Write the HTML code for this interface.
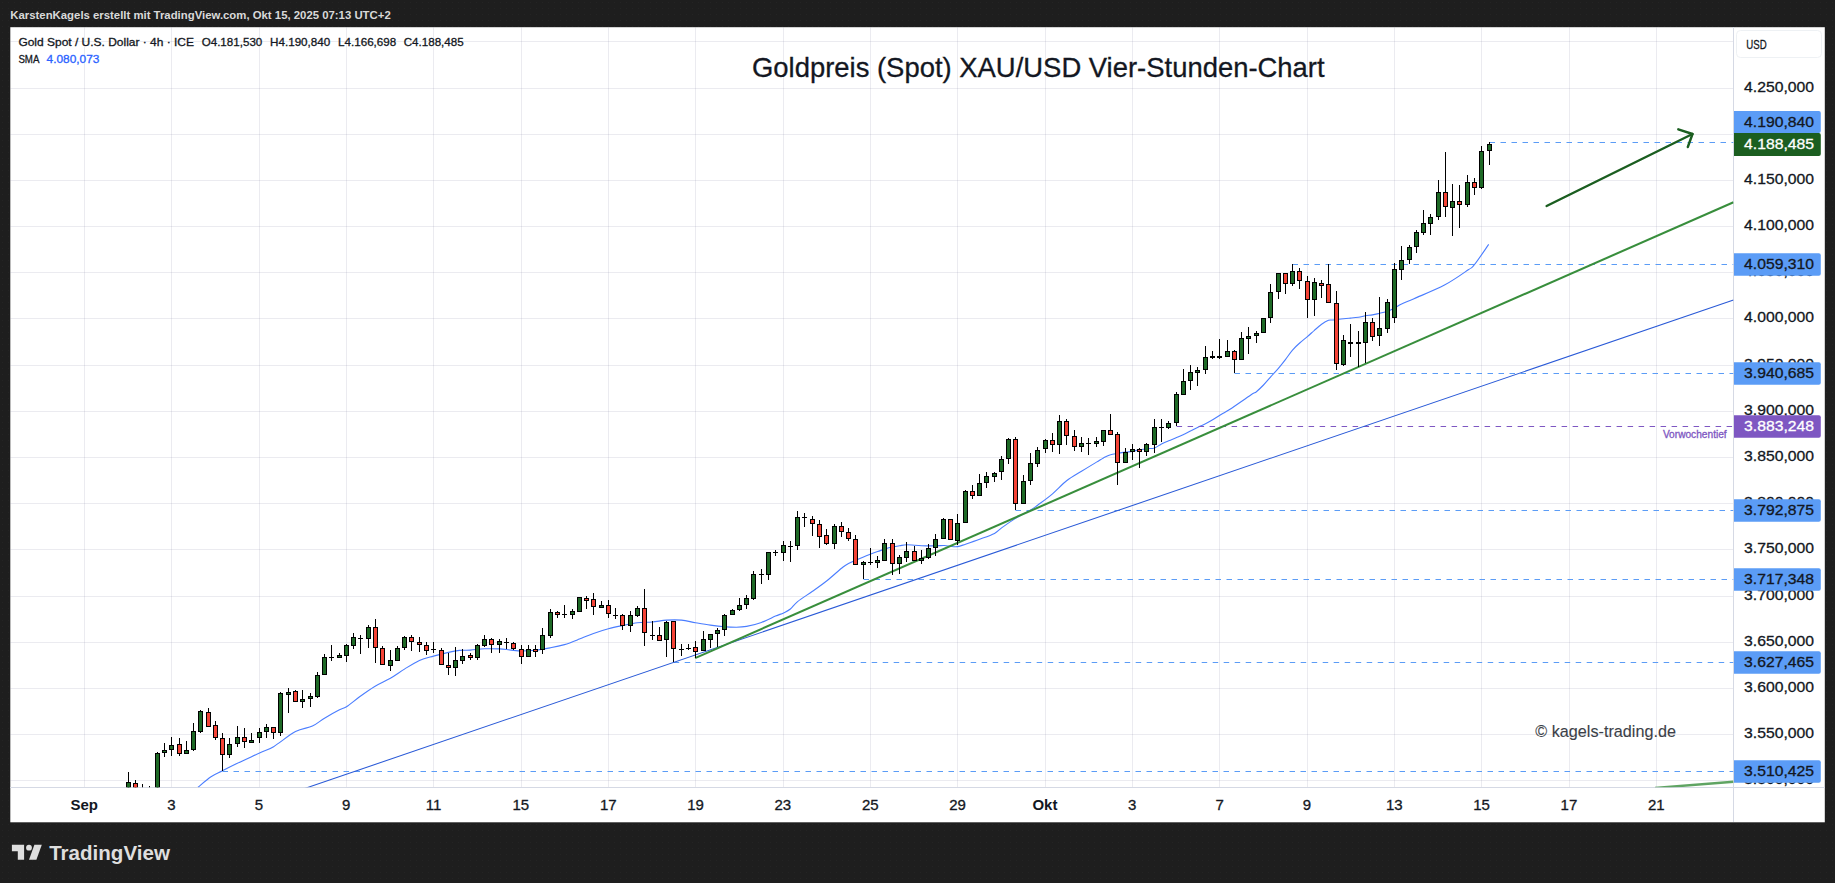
<!DOCTYPE html>
<html lang="de"><head><meta charset="utf-8"><title>Goldpreis (Spot) XAU/USD Vier-Stunden-Chart</title>
<style>html,body{margin:0;padding:0;background:#1e1e1e;overflow:hidden}svg{display:block}text{white-space:pre}</style>
</head><body>
<svg width="1835" height="883" viewBox="0 0 1835 883" font-family='"Liberation Sans", Arial, sans-serif'>
<defs>
<clipPath id="pane"><rect x="10.3" y="27.2" width="1723.2" height="760.0999999999999"/></clipPath>
<clipPath id="axis"><rect x="1733.5" y="27.2" width="91.29999999999995" height="760.0999999999999"/></clipPath>
<pattern id="dots" width="6" height="6" patternUnits="userSpaceOnUse"><rect width="6" height="6" fill="#1e1e1e"/><rect x="2" y="2" width="1" height="1" fill="#242424"/></pattern>
</defs>
<rect width="1835" height="883" fill="url(#dots)"/>
<rect x="10.3" y="27.2" width="1814.5" height="795.0999999999999" fill="#ffffff"/>
<g stroke="#787b9a" stroke-opacity="0.15" stroke-width="1" shape-rendering="crispEdges" clip-path="url(#pane)">
<line x1="84.50" y1="27.2" x2="84.50" y2="787.3"/>
<line x1="171.50" y1="27.2" x2="171.50" y2="787.3"/>
<line x1="259.50" y1="27.2" x2="259.50" y2="787.3"/>
<line x1="346.50" y1="27.2" x2="346.50" y2="787.3"/>
<line x1="433.50" y1="27.2" x2="433.50" y2="787.3"/>
<line x1="521.50" y1="27.2" x2="521.50" y2="787.3"/>
<line x1="608.50" y1="27.2" x2="608.50" y2="787.3"/>
<line x1="695.50" y1="27.2" x2="695.50" y2="787.3"/>
<line x1="783.50" y1="27.2" x2="783.50" y2="787.3"/>
<line x1="870.50" y1="27.2" x2="870.50" y2="787.3"/>
<line x1="957.50" y1="27.2" x2="957.50" y2="787.3"/>
<line x1="1045.50" y1="27.2" x2="1045.50" y2="787.3"/>
<line x1="1132.50" y1="27.2" x2="1132.50" y2="787.3"/>
<line x1="1219.50" y1="27.2" x2="1219.50" y2="787.3"/>
<line x1="1307.50" y1="27.2" x2="1307.50" y2="787.3"/>
<line x1="1394.50" y1="27.2" x2="1394.50" y2="787.3"/>
<line x1="1481.50" y1="27.2" x2="1481.50" y2="787.3"/>
<line x1="1569.50" y1="27.2" x2="1569.50" y2="787.3"/>
<line x1="1656.50" y1="27.2" x2="1656.50" y2="787.3"/>
<line x1="10.3" y1="41.50" x2="1733.5" y2="41.50"/>
<line x1="10.3" y1="88.50" x2="1733.5" y2="88.50"/>
<line x1="10.3" y1="134.50" x2="1733.5" y2="134.50"/>
<line x1="10.3" y1="180.50" x2="1733.5" y2="180.50"/>
<line x1="10.3" y1="226.50" x2="1733.5" y2="226.50"/>
<line x1="10.3" y1="272.50" x2="1733.5" y2="272.50"/>
<line x1="10.3" y1="318.50" x2="1733.5" y2="318.50"/>
<line x1="10.3" y1="365.50" x2="1733.5" y2="365.50"/>
<line x1="10.3" y1="411.50" x2="1733.5" y2="411.50"/>
<line x1="10.3" y1="457.50" x2="1733.5" y2="457.50"/>
<line x1="10.3" y1="503.50" x2="1733.5" y2="503.50"/>
<line x1="10.3" y1="549.50" x2="1733.5" y2="549.50"/>
<line x1="10.3" y1="596.50" x2="1733.5" y2="596.50"/>
<line x1="10.3" y1="642.50" x2="1733.5" y2="642.50"/>
<line x1="10.3" y1="688.50" x2="1733.5" y2="688.50"/>
<line x1="10.3" y1="734.50" x2="1733.5" y2="734.50"/>
<line x1="10.3" y1="780.50" x2="1733.5" y2="780.50"/>
</g>
<g stroke="#d5d9e4" stroke-width="1" shape-rendering="crispEdges"><line x1="1733.5" y1="27.2" x2="1733.5" y2="822.3"/><line x1="10.3" y1="787.3" x2="1824.8" y2="787.3"/></g>
<g clip-path="url(#pane)">
<path fill="none" stroke="#4a7dff" stroke-width="1.1" stroke-linejoin="round" d="M198.0,787.3 C200.2,785.5 206.9,779.5 211.0,776.8 C215.1,774.0 218.3,773.0 222.5,770.8 C226.7,768.6 230.1,766.8 236.3,763.8 C242.5,760.8 253.4,755.9 259.6,753.0 C265.8,750.1 267.6,750.3 273.6,746.7 C279.6,743.1 289.0,735.0 295.5,731.6 C302.0,728.2 307.6,728.3 312.4,726.1 C317.2,723.9 320.1,720.9 324.5,718.2 C328.9,715.5 335.3,711.9 339.0,710.0 C342.7,708.1 343.1,708.9 346.5,706.7 C349.9,704.5 354.9,700.2 359.6,696.8 C364.3,693.4 369.6,689.6 374.7,686.5 C379.8,683.4 385.4,681.2 390.4,678.3 C395.4,675.4 399.7,672.1 404.5,669.1 C409.3,666.1 414.6,662.6 419.4,660.4 C424.2,658.2 428.7,657.4 433.5,656.1 C438.3,654.8 444.1,653.4 448.4,652.4 C452.7,651.4 455.8,650.8 459.5,650.4 C463.2,650.0 466.2,650.4 470.4,650.1 C474.6,649.8 479.8,649.0 484.6,648.8 C489.5,648.6 495.4,648.7 499.5,648.9 C503.6,649.1 505.8,649.5 509.5,649.9 C513.2,650.2 517.3,651.0 521.6,651.0 C525.9,651.0 530.7,650.7 535.5,650.2 C540.3,649.7 545.6,648.7 550.4,647.8 C555.2,646.9 559.7,646.0 564.5,644.6 C569.3,643.2 574.6,641.0 579.4,639.1 C584.2,637.2 588.7,635.2 593.5,633.5 C598.3,631.8 603.6,630.1 608.4,628.8 C613.2,627.5 617.7,626.6 622.5,625.6 C627.3,624.6 632.4,623.3 637.4,622.7 C642.4,622.1 647.4,622.4 652.3,622.0 C657.1,621.6 661.6,620.4 666.5,620.1 C671.4,619.8 676.7,619.7 681.5,620.1 C686.3,620.5 690.7,621.9 695.5,622.7 C700.3,623.5 705.6,624.4 710.4,625.1 C715.2,625.8 720.2,626.4 724.5,626.7 C728.8,627.1 732.6,627.2 736.3,627.2 C740.0,627.2 742.4,627.2 746.6,626.4 C750.8,625.6 756.6,624.1 761.4,622.4 C766.2,620.7 771.8,617.7 775.5,616.1 C779.2,614.5 781.1,614.1 783.6,612.9 C786.1,611.7 788.1,610.9 790.4,609.0 C792.7,607.1 793.9,604.6 797.6,601.6 C801.3,598.6 807.7,594.7 812.5,591.3 C817.3,587.9 821.8,584.8 826.6,581.0 C831.4,577.2 837.9,571.2 841.5,568.3 C845.1,565.4 844.8,565.4 848.5,563.5 C852.2,561.6 858.6,558.9 863.5,556.9 C868.4,554.9 873.4,553.1 877.6,551.6 C881.8,550.1 885.2,548.7 888.9,547.7 C892.5,546.7 896.5,546.3 899.5,545.8 C902.5,545.3 903.0,544.8 906.7,544.8 C910.4,544.8 916.8,545.6 921.6,545.8 C926.4,546.0 931.7,545.8 935.5,545.8 C939.3,545.8 941.9,545.4 944.4,545.5 C946.9,545.6 948.4,546.2 950.6,546.4 C952.8,546.6 955.2,547.0 957.7,546.6 C960.2,546.2 961.9,545.4 965.5,544.2 C969.1,543.0 974.8,541.1 979.6,539.3 C984.4,537.5 990.8,535.3 994.5,533.4 C998.2,531.5 998.1,530.4 1001.6,527.9 C1005.1,525.4 1010.7,521.4 1015.5,518.4 C1020.3,515.4 1026.9,512.2 1030.6,510.0 C1034.3,507.8 1033.9,507.9 1037.6,505.2 C1041.2,502.5 1047.7,497.9 1052.5,493.8 C1057.3,489.7 1061.8,484.6 1066.6,480.8 C1071.4,477.1 1076.5,474.4 1081.5,471.3 C1086.5,468.2 1092.8,464.3 1096.5,462.1 C1100.2,459.9 1101.2,459.1 1103.5,457.9 C1105.8,456.7 1108.2,455.4 1110.5,454.7 C1112.8,453.9 1115.1,453.8 1117.6,453.4 C1120.1,453.0 1123.0,452.4 1125.5,452.1 C1128.0,451.8 1130.2,451.8 1132.5,451.4 C1134.8,451.0 1137.0,450.2 1139.5,449.8 C1142.0,449.4 1144.9,449.0 1147.4,448.7 C1149.9,448.4 1152.2,448.7 1154.6,447.9 C1156.9,447.1 1159.2,445.1 1161.5,443.9 C1163.8,442.7 1166.2,441.8 1168.7,440.7 C1171.2,439.6 1174.1,438.7 1176.6,437.6 C1179.1,436.6 1181.1,435.6 1183.6,434.4 C1186.1,433.2 1189.0,431.6 1191.5,430.4 C1194.0,429.1 1196.0,428.1 1198.5,426.9 C1201.0,425.7 1203.9,424.6 1206.4,423.3 C1208.9,422.0 1211.0,420.8 1213.5,419.3 C1216.0,417.8 1218.8,416.0 1221.5,414.3 C1224.2,412.6 1225.1,412.5 1230.0,409.3 C1234.9,406.1 1246.4,397.9 1250.8,395.0 C1255.2,392.1 1254.3,393.4 1256.4,391.7 C1258.5,390.0 1261.2,387.4 1263.5,385.0 C1265.8,382.6 1268.0,379.9 1270.5,377.1 C1273.0,374.3 1275.9,371.2 1278.4,368.3 C1280.9,365.4 1283.1,362.6 1285.4,359.6 C1287.8,356.6 1290.1,352.9 1292.5,350.1 C1294.9,347.3 1297.2,345.2 1299.7,343.0 C1302.2,340.8 1305.0,338.7 1307.4,336.6 C1309.9,334.5 1312.0,332.4 1314.4,330.3 C1316.8,328.2 1319.2,326.0 1321.6,324.3 C1323.9,322.6 1326.5,321.0 1328.5,320.3 C1330.5,319.6 1330.8,320.3 1333.3,320.0 C1335.8,319.7 1340.7,319.0 1343.6,318.7 C1346.5,318.4 1348.1,318.3 1350.6,318.1 C1353.1,317.9 1356.0,317.7 1358.5,317.3 C1361.0,316.9 1363.2,316.1 1365.5,315.7 C1367.8,315.3 1370.1,315.3 1372.4,314.9 C1374.8,314.5 1377.1,313.9 1379.6,313.3 C1382.1,312.7 1385.0,312.2 1387.5,311.3 C1390.0,310.4 1392.2,309.3 1394.5,308.1 C1396.8,306.9 1398.3,305.7 1401.6,304.1 C1404.8,302.5 1406.8,301.9 1414.0,298.7 C1421.2,295.5 1435.5,289.9 1444.5,285.1 C1453.5,280.3 1463.3,273.2 1468.3,269.8 C1473.3,266.4 1471.0,268.9 1474.4,264.7 C1477.8,260.5 1486.3,247.8 1488.7,244.4"/>
<line x1="1489.5" y1="142.5" x2="1733.5" y2="142.5" stroke="#5b9cf6" stroke-width="1" stroke-dasharray="5.5 5.5"/>
<line x1="1292.5" y1="264.5" x2="1733.5" y2="264.5" stroke="#5b9cf6" stroke-width="1" stroke-dasharray="5.5 5.5"/>
<line x1="1234.5" y1="373.5" x2="1733.5" y2="373.5" stroke="#5b9cf6" stroke-width="1" stroke-dasharray="5.5 5.5"/>
<line x1="1176.6" y1="426.5" x2="1733.5" y2="426.5" stroke="#7e57c2" stroke-width="1" stroke-dasharray="5.5 5.5"/>
<line x1="1015.5" y1="510.5" x2="1733.5" y2="510.5" stroke="#5b9cf6" stroke-width="1" stroke-dasharray="5.5 5.5"/>
<line x1="863.5" y1="579.5" x2="1733.5" y2="579.5" stroke="#5b9cf6" stroke-width="1" stroke-dasharray="5.5 5.5"/>
<line x1="673.7" y1="662.5" x2="1733.5" y2="662.5" stroke="#5b9cf6" stroke-width="1" stroke-dasharray="5.5 5.5"/>
<line x1="222.5" y1="771.5" x2="1733.5" y2="771.5" stroke="#5b9cf6" stroke-width="1" stroke-dasharray="5.5 5.5"/>
<line x1="300.0" y1="790.1" x2="1733.5" y2="300.0" stroke="#2a5ad7" stroke-width="1.05"/>
<line x1="695.1" y1="658.1" x2="1733.5" y2="202.3" stroke="#388e3c" stroke-width="2.05"/>
<line x1="1655.0" y1="788.0" x2="1733.5" y2="781.7" stroke="#388e3c" stroke-width="2.4" opacity="0.8"/>
<g shape-rendering="crispEdges"><rect x="128" y="772" width="1" height="21" fill="#000"/><rect x="126" y="782" width="5" height="11" fill="#000"/><rect x="127" y="783" width="3" height="9" fill="#1e6926"/><rect x="135" y="780" width="1" height="13" fill="#000"/><rect x="133" y="783" width="5" height="10" fill="#000"/><rect x="134" y="784" width="3" height="8" fill="#f44336"/><rect x="142" y="784" width="1" height="9" fill="#000"/><rect x="140" y="793" width="5" height="1" fill="#000"/><rect x="149" y="786" width="1" height="7" fill="#000"/><rect x="147" y="793" width="5" height="1" fill="#000"/><rect x="157" y="752" width="1" height="41" fill="#000"/><rect x="155" y="753" width="5" height="40" fill="#000"/><rect x="156" y="754" width="3" height="38" fill="#1e6926"/><rect x="164" y="743" width="1" height="14" fill="#000"/><rect x="162" y="750" width="5" height="3" fill="#000"/><rect x="163" y="751" width="3" height="1" fill="#1e6926"/><rect x="171" y="737" width="1" height="19" fill="#000"/><rect x="169" y="745" width="5" height="5" fill="#000"/><rect x="170" y="746" width="3" height="3" fill="#1e6926"/><rect x="179" y="738" width="1" height="18" fill="#000"/><rect x="177" y="744" width="5" height="10" fill="#000"/><rect x="178" y="745" width="3" height="8" fill="#f44336"/><rect x="186" y="741" width="1" height="13" fill="#000"/><rect x="184" y="750" width="5" height="4" fill="#000"/><rect x="185" y="751" width="3" height="2" fill="#1e6926"/><rect x="193" y="723" width="1" height="28" fill="#000"/><rect x="191" y="731" width="5" height="19" fill="#000"/><rect x="192" y="732" width="3" height="17" fill="#1e6926"/><rect x="200" y="710" width="1" height="23" fill="#000"/><rect x="198" y="711" width="5" height="21" fill="#000"/><rect x="199" y="712" width="3" height="19" fill="#1e6926"/><rect x="208" y="708" width="1" height="19" fill="#000"/><rect x="206" y="712" width="5" height="15" fill="#000"/><rect x="207" y="713" width="3" height="13" fill="#f44336"/><rect x="215" y="721" width="1" height="19" fill="#000"/><rect x="213" y="725" width="5" height="13" fill="#000"/><rect x="214" y="726" width="3" height="11" fill="#f44336"/><rect x="222" y="733" width="1" height="38" fill="#000"/><rect x="220" y="738" width="5" height="17" fill="#000"/><rect x="221" y="739" width="3" height="15" fill="#f44336"/><rect x="229" y="738" width="1" height="20" fill="#000"/><rect x="227" y="744" width="5" height="11" fill="#000"/><rect x="228" y="745" width="3" height="9" fill="#1e6926"/><rect x="237" y="726" width="1" height="21" fill="#000"/><rect x="235" y="737" width="5" height="7" fill="#000"/><rect x="236" y="738" width="3" height="5" fill="#1e6926"/><rect x="244" y="728" width="1" height="20" fill="#000"/><rect x="242" y="737" width="5" height="5" fill="#000"/><rect x="243" y="738" width="3" height="3" fill="#f44336"/><rect x="251" y="733" width="1" height="9" fill="#000"/><rect x="249" y="740" width="5" height="3" fill="#000"/><rect x="250" y="741" width="3" height="1" fill="#1e6926"/><rect x="259" y="728" width="1" height="15" fill="#000"/><rect x="257" y="732" width="5" height="6" fill="#000"/><rect x="258" y="733" width="3" height="4" fill="#1e6926"/><rect x="266" y="724" width="1" height="14" fill="#000"/><rect x="264" y="727" width="5" height="5" fill="#000"/><rect x="265" y="728" width="3" height="3" fill="#1e6926"/><rect x="273" y="727" width="1" height="12" fill="#000"/><rect x="271" y="727" width="5" height="6" fill="#000"/><rect x="272" y="728" width="3" height="4" fill="#f44336"/><rect x="280" y="692" width="1" height="44" fill="#000"/><rect x="278" y="693" width="5" height="40" fill="#000"/><rect x="279" y="694" width="3" height="38" fill="#1e6926"/><rect x="288" y="688" width="1" height="25" fill="#000"/><rect x="286" y="692" width="5" height="3" fill="#000"/><rect x="287" y="693" width="3" height="1" fill="#1e6926"/><rect x="295" y="690" width="1" height="12" fill="#000"/><rect x="293" y="691" width="5" height="11" fill="#000"/><rect x="294" y="692" width="3" height="9" fill="#f44336"/><rect x="302" y="690" width="1" height="18" fill="#000"/><rect x="300" y="699" width="5" height="3" fill="#000"/><rect x="301" y="700" width="3" height="1" fill="#1e6926"/><rect x="310" y="693" width="1" height="14" fill="#000"/><rect x="308" y="696" width="5" height="3" fill="#000"/><rect x="309" y="697" width="3" height="1" fill="#1e6926"/><rect x="317" y="672" width="1" height="26" fill="#000"/><rect x="315" y="675" width="5" height="22" fill="#000"/><rect x="316" y="676" width="3" height="20" fill="#1e6926"/><rect x="324" y="654" width="1" height="21" fill="#000"/><rect x="322" y="657" width="5" height="18" fill="#000"/><rect x="323" y="658" width="3" height="16" fill="#1e6926"/><rect x="331" y="645" width="1" height="16" fill="#000"/><rect x="329" y="657" width="5" height="1" fill="#000"/><rect x="339" y="653" width="1" height="5" fill="#000"/><rect x="337" y="655" width="5" height="3" fill="#000"/><rect x="338" y="656" width="3" height="1" fill="#1e6926"/><rect x="346" y="644" width="1" height="18" fill="#000"/><rect x="344" y="645" width="5" height="11" fill="#000"/><rect x="345" y="646" width="3" height="9" fill="#1e6926"/><rect x="353" y="633" width="1" height="16" fill="#000"/><rect x="351" y="637" width="5" height="9" fill="#000"/><rect x="352" y="638" width="3" height="7" fill="#1e6926"/><rect x="360" y="635" width="1" height="19" fill="#000"/><rect x="358" y="638" width="5" height="1" fill="#000"/><rect x="368" y="625" width="1" height="23" fill="#000"/><rect x="366" y="627" width="5" height="12" fill="#000"/><rect x="367" y="628" width="3" height="10" fill="#1e6926"/><rect x="375" y="619" width="1" height="44" fill="#000"/><rect x="373" y="627" width="5" height="21" fill="#000"/><rect x="374" y="628" width="3" height="19" fill="#f44336"/><rect x="382" y="646" width="1" height="19" fill="#000"/><rect x="380" y="648" width="5" height="17" fill="#000"/><rect x="381" y="649" width="3" height="15" fill="#f44336"/><rect x="390" y="650" width="1" height="21" fill="#000"/><rect x="388" y="660" width="5" height="6" fill="#000"/><rect x="389" y="661" width="3" height="4" fill="#1e6926"/><rect x="397" y="646" width="1" height="15" fill="#000"/><rect x="395" y="648" width="5" height="13" fill="#000"/><rect x="396" y="649" width="3" height="11" fill="#1e6926"/><rect x="404" y="636" width="1" height="14" fill="#000"/><rect x="402" y="637" width="5" height="11" fill="#000"/><rect x="403" y="638" width="3" height="9" fill="#1e6926"/><rect x="411" y="635" width="1" height="16" fill="#000"/><rect x="409" y="637" width="5" height="5" fill="#000"/><rect x="410" y="638" width="3" height="3" fill="#f44336"/><rect x="419" y="637" width="1" height="15" fill="#000"/><rect x="417" y="642" width="5" height="3" fill="#000"/><rect x="418" y="643" width="3" height="1" fill="#f44336"/><rect x="426" y="642" width="1" height="13" fill="#000"/><rect x="424" y="645" width="5" height="6" fill="#000"/><rect x="425" y="646" width="3" height="4" fill="#f44336"/><rect x="433" y="642" width="1" height="11" fill="#000"/><rect x="431" y="649" width="5" height="1" fill="#000"/><rect x="441" y="648" width="1" height="17" fill="#000"/><rect x="439" y="650" width="5" height="15" fill="#000"/><rect x="440" y="651" width="3" height="13" fill="#f44336"/><rect x="448" y="653" width="1" height="22" fill="#000"/><rect x="446" y="665" width="5" height="3" fill="#000"/><rect x="447" y="666" width="3" height="1" fill="#f44336"/><rect x="455" y="647" width="1" height="29" fill="#000"/><rect x="453" y="660" width="5" height="8" fill="#000"/><rect x="454" y="661" width="3" height="6" fill="#1e6926"/><rect x="462" y="649" width="1" height="15" fill="#000"/><rect x="460" y="656" width="5" height="5" fill="#000"/><rect x="461" y="657" width="3" height="3" fill="#1e6926"/><rect x="470" y="653" width="1" height="7" fill="#000"/><rect x="468" y="655" width="5" height="3" fill="#000"/><rect x="469" y="656" width="3" height="1" fill="#f44336"/><rect x="477" y="644" width="1" height="16" fill="#000"/><rect x="475" y="645" width="5" height="13" fill="#000"/><rect x="476" y="646" width="3" height="11" fill="#1e6926"/><rect x="484" y="635" width="1" height="12" fill="#000"/><rect x="482" y="639" width="5" height="7" fill="#000"/><rect x="483" y="640" width="3" height="5" fill="#1e6926"/><rect x="491" y="638" width="1" height="15" fill="#000"/><rect x="489" y="639" width="5" height="6" fill="#000"/><rect x="490" y="640" width="3" height="4" fill="#f44336"/><rect x="499" y="639" width="1" height="14" fill="#000"/><rect x="497" y="641" width="5" height="4" fill="#000"/><rect x="498" y="642" width="3" height="2" fill="#1e6926"/><rect x="506" y="638" width="1" height="11" fill="#000"/><rect x="504" y="642" width="5" height="1" fill="#000"/><rect x="513" y="642" width="1" height="8" fill="#000"/><rect x="511" y="643" width="5" height="6" fill="#000"/><rect x="512" y="644" width="3" height="4" fill="#f44336"/><rect x="521" y="645" width="1" height="19" fill="#000"/><rect x="519" y="649" width="5" height="8" fill="#000"/><rect x="520" y="650" width="3" height="6" fill="#f44336"/><rect x="528" y="645" width="1" height="12" fill="#000"/><rect x="526" y="649" width="5" height="8" fill="#000"/><rect x="527" y="650" width="3" height="6" fill="#1e6926"/><rect x="535" y="645" width="1" height="12" fill="#000"/><rect x="533" y="649" width="5" height="3" fill="#000"/><rect x="534" y="650" width="3" height="1" fill="#f44336"/><rect x="542" y="628" width="1" height="26" fill="#000"/><rect x="540" y="635" width="5" height="15" fill="#000"/><rect x="541" y="636" width="3" height="13" fill="#1e6926"/><rect x="550" y="609" width="1" height="29" fill="#000"/><rect x="548" y="612" width="5" height="24" fill="#000"/><rect x="549" y="613" width="3" height="22" fill="#1e6926"/><rect x="557" y="611" width="1" height="7" fill="#000"/><rect x="555" y="612" width="5" height="3" fill="#000"/><rect x="556" y="613" width="3" height="1" fill="#f44336"/><rect x="564" y="605" width="1" height="13" fill="#000"/><rect x="562" y="614" width="5" height="1" fill="#000"/><rect x="572" y="609" width="1" height="10" fill="#000"/><rect x="570" y="611" width="5" height="4" fill="#000"/><rect x="571" y="612" width="3" height="2" fill="#1e6926"/><rect x="579" y="597" width="1" height="15" fill="#000"/><rect x="577" y="597" width="5" height="15" fill="#000"/><rect x="578" y="598" width="3" height="13" fill="#1e6926"/><rect x="586" y="596" width="1" height="13" fill="#000"/><rect x="584" y="598" width="5" height="3" fill="#000"/><rect x="585" y="599" width="3" height="1" fill="#f44336"/><rect x="593" y="593" width="1" height="22" fill="#000"/><rect x="591" y="599" width="5" height="8" fill="#000"/><rect x="592" y="600" width="3" height="6" fill="#f44336"/><rect x="601" y="601" width="1" height="7" fill="#000"/><rect x="599" y="605" width="5" height="3" fill="#000"/><rect x="600" y="606" width="3" height="1" fill="#1e6926"/><rect x="608" y="600" width="1" height="18" fill="#000"/><rect x="606" y="605" width="5" height="9" fill="#000"/><rect x="607" y="606" width="3" height="7" fill="#f44336"/><rect x="615" y="608" width="1" height="11" fill="#000"/><rect x="613" y="615" width="5" height="1" fill="#000"/><rect x="622" y="614" width="1" height="16" fill="#000"/><rect x="620" y="615" width="5" height="11" fill="#000"/><rect x="621" y="616" width="3" height="9" fill="#f44336"/><rect x="630" y="611" width="1" height="21" fill="#000"/><rect x="628" y="615" width="5" height="11" fill="#000"/><rect x="629" y="616" width="3" height="9" fill="#1e6926"/><rect x="637" y="606" width="1" height="11" fill="#000"/><rect x="635" y="608" width="5" height="8" fill="#000"/><rect x="636" y="609" width="3" height="6" fill="#1e6926"/><rect x="644" y="589" width="1" height="57" fill="#000"/><rect x="642" y="608" width="5" height="25" fill="#000"/><rect x="643" y="609" width="3" height="23" fill="#f44336"/><rect x="652" y="621" width="1" height="19" fill="#000"/><rect x="650" y="635" width="5" height="1" fill="#000"/><rect x="659" y="627" width="1" height="14" fill="#000"/><rect x="657" y="635" width="5" height="6" fill="#000"/><rect x="658" y="636" width="3" height="4" fill="#f44336"/><rect x="666" y="621" width="1" height="36" fill="#000"/><rect x="664" y="622" width="5" height="18" fill="#000"/><rect x="665" y="623" width="3" height="16" fill="#1e6926"/><rect x="673" y="621" width="1" height="41" fill="#000"/><rect x="671" y="621" width="5" height="28" fill="#000"/><rect x="672" y="622" width="3" height="26" fill="#f44336"/><rect x="681" y="644" width="1" height="12" fill="#000"/><rect x="679" y="649" width="5" height="1" fill="#000"/><rect x="688" y="644" width="1" height="6" fill="#000"/><rect x="686" y="648" width="5" height="1" fill="#000"/><rect x="695" y="641" width="1" height="17" fill="#000"/><rect x="693" y="647" width="5" height="5" fill="#000"/><rect x="694" y="648" width="3" height="3" fill="#f44336"/><rect x="703" y="631" width="1" height="20" fill="#000"/><rect x="701" y="639" width="5" height="12" fill="#000"/><rect x="702" y="640" width="3" height="10" fill="#1e6926"/><rect x="710" y="634" width="1" height="14" fill="#000"/><rect x="708" y="634" width="5" height="6" fill="#000"/><rect x="709" y="635" width="3" height="4" fill="#1e6926"/><rect x="717" y="628" width="1" height="19" fill="#000"/><rect x="715" y="630" width="5" height="4" fill="#000"/><rect x="716" y="631" width="3" height="2" fill="#1e6926"/><rect x="724" y="614" width="1" height="22" fill="#000"/><rect x="722" y="615" width="5" height="15" fill="#000"/><rect x="723" y="616" width="3" height="13" fill="#1e6926"/><rect x="732" y="609" width="1" height="6" fill="#000"/><rect x="730" y="610" width="5" height="5" fill="#000"/><rect x="731" y="611" width="3" height="3" fill="#1e6926"/><rect x="739" y="598" width="1" height="13" fill="#000"/><rect x="737" y="605" width="5" height="5" fill="#000"/><rect x="738" y="606" width="3" height="3" fill="#1e6926"/><rect x="746" y="595" width="1" height="14" fill="#000"/><rect x="744" y="598" width="5" height="7" fill="#000"/><rect x="745" y="599" width="3" height="5" fill="#1e6926"/><rect x="753" y="571" width="1" height="29" fill="#000"/><rect x="751" y="574" width="5" height="25" fill="#000"/><rect x="752" y="575" width="3" height="23" fill="#1e6926"/><rect x="761" y="569" width="1" height="15" fill="#000"/><rect x="759" y="574" width="5" height="1" fill="#000"/><rect x="768" y="552" width="1" height="28" fill="#000"/><rect x="766" y="552" width="5" height="23" fill="#000"/><rect x="767" y="553" width="3" height="21" fill="#1e6926"/><rect x="775" y="550" width="1" height="6" fill="#000"/><rect x="773" y="552" width="5" height="1" fill="#000"/><rect x="783" y="541" width="1" height="20" fill="#000"/><rect x="781" y="545" width="5" height="8" fill="#000"/><rect x="782" y="546" width="3" height="6" fill="#1e6926"/><rect x="790" y="541" width="1" height="21" fill="#000"/><rect x="788" y="546" width="5" height="1" fill="#000"/><rect x="797" y="511" width="1" height="39" fill="#000"/><rect x="795" y="517" width="5" height="29" fill="#000"/><rect x="796" y="518" width="3" height="27" fill="#1e6926"/><rect x="804" y="513" width="1" height="14" fill="#000"/><rect x="802" y="517" width="5" height="1" fill="#000"/><rect x="812" y="516" width="1" height="20" fill="#000"/><rect x="810" y="519" width="5" height="5" fill="#000"/><rect x="811" y="520" width="3" height="3" fill="#f44336"/><rect x="819" y="520" width="1" height="28" fill="#000"/><rect x="817" y="524" width="5" height="13" fill="#000"/><rect x="818" y="525" width="3" height="11" fill="#f44336"/><rect x="826" y="529" width="1" height="16" fill="#000"/><rect x="824" y="535" width="5" height="9" fill="#000"/><rect x="825" y="536" width="3" height="7" fill="#f44336"/><rect x="834" y="524" width="1" height="25" fill="#000"/><rect x="832" y="526" width="5" height="18" fill="#000"/><rect x="833" y="527" width="3" height="16" fill="#1e6926"/><rect x="841" y="522" width="1" height="15" fill="#000"/><rect x="839" y="526" width="5" height="6" fill="#000"/><rect x="840" y="527" width="3" height="4" fill="#f44336"/><rect x="848" y="528" width="1" height="13" fill="#000"/><rect x="846" y="532" width="5" height="7" fill="#000"/><rect x="847" y="533" width="3" height="5" fill="#f44336"/><rect x="855" y="535" width="1" height="30" fill="#000"/><rect x="853" y="539" width="5" height="26" fill="#000"/><rect x="854" y="540" width="3" height="24" fill="#f44336"/><rect x="863" y="561" width="1" height="18" fill="#000"/><rect x="861" y="562" width="5" height="3" fill="#000"/><rect x="862" y="563" width="3" height="1" fill="#1e6926"/><rect x="870" y="548" width="1" height="17" fill="#000"/><rect x="868" y="562" width="5" height="1" fill="#000"/><rect x="877" y="556" width="1" height="12" fill="#000"/><rect x="875" y="560" width="5" height="3" fill="#000"/><rect x="876" y="561" width="3" height="1" fill="#1e6926"/><rect x="884" y="539" width="1" height="22" fill="#000"/><rect x="882" y="543" width="5" height="18" fill="#000"/><rect x="883" y="544" width="3" height="16" fill="#1e6926"/><rect x="892" y="539" width="1" height="36" fill="#000"/><rect x="890" y="543" width="5" height="21" fill="#000"/><rect x="891" y="544" width="3" height="19" fill="#f44336"/><rect x="899" y="555" width="1" height="19" fill="#000"/><rect x="897" y="557" width="5" height="7" fill="#000"/><rect x="898" y="558" width="3" height="5" fill="#1e6926"/><rect x="906" y="542" width="1" height="20" fill="#000"/><rect x="904" y="551" width="5" height="7" fill="#000"/><rect x="905" y="552" width="3" height="5" fill="#1e6926"/><rect x="914" y="546" width="1" height="15" fill="#000"/><rect x="912" y="551" width="5" height="10" fill="#000"/><rect x="913" y="552" width="3" height="8" fill="#f44336"/><rect x="921" y="550" width="1" height="14" fill="#000"/><rect x="919" y="558" width="5" height="3" fill="#000"/><rect x="920" y="559" width="3" height="1" fill="#1e6926"/><rect x="928" y="544" width="1" height="15" fill="#000"/><rect x="926" y="548" width="5" height="10" fill="#000"/><rect x="927" y="549" width="3" height="8" fill="#1e6926"/><rect x="935" y="534" width="1" height="22" fill="#000"/><rect x="933" y="539" width="5" height="9" fill="#000"/><rect x="934" y="540" width="3" height="7" fill="#1e6926"/><rect x="943" y="518" width="1" height="21" fill="#000"/><rect x="941" y="519" width="5" height="20" fill="#000"/><rect x="942" y="520" width="3" height="18" fill="#1e6926"/><rect x="950" y="519" width="1" height="21" fill="#000"/><rect x="948" y="519" width="5" height="21" fill="#000"/><rect x="949" y="520" width="3" height="19" fill="#f44336"/><rect x="957" y="514" width="1" height="31" fill="#000"/><rect x="955" y="523" width="5" height="18" fill="#000"/><rect x="956" y="524" width="3" height="16" fill="#1e6926"/><rect x="965" y="490" width="1" height="33" fill="#000"/><rect x="963" y="491" width="5" height="32" fill="#000"/><rect x="964" y="492" width="3" height="30" fill="#1e6926"/><rect x="972" y="485" width="1" height="14" fill="#000"/><rect x="970" y="491" width="5" height="5" fill="#000"/><rect x="971" y="492" width="3" height="3" fill="#f44336"/><rect x="979" y="474" width="1" height="22" fill="#000"/><rect x="977" y="483" width="5" height="13" fill="#000"/><rect x="978" y="484" width="3" height="11" fill="#1e6926"/><rect x="986" y="472" width="1" height="16" fill="#000"/><rect x="984" y="476" width="5" height="7" fill="#000"/><rect x="985" y="477" width="3" height="5" fill="#1e6926"/><rect x="994" y="472" width="1" height="10" fill="#000"/><rect x="992" y="473" width="5" height="4" fill="#000"/><rect x="993" y="474" width="3" height="2" fill="#1e6926"/><rect x="1001" y="456" width="1" height="24" fill="#000"/><rect x="999" y="459" width="5" height="13" fill="#000"/><rect x="1000" y="460" width="3" height="11" fill="#1e6926"/><rect x="1008" y="438" width="1" height="26" fill="#000"/><rect x="1006" y="439" width="5" height="20" fill="#000"/><rect x="1007" y="440" width="3" height="18" fill="#1e6926"/><rect x="1015" y="437" width="1" height="73" fill="#000"/><rect x="1013" y="439" width="5" height="65" fill="#000"/><rect x="1014" y="440" width="3" height="63" fill="#f44336"/><rect x="1023" y="475" width="1" height="29" fill="#000"/><rect x="1021" y="481" width="5" height="23" fill="#000"/><rect x="1022" y="482" width="3" height="21" fill="#1e6926"/><rect x="1030" y="453" width="1" height="32" fill="#000"/><rect x="1028" y="463" width="5" height="18" fill="#000"/><rect x="1029" y="464" width="3" height="16" fill="#1e6926"/><rect x="1037" y="447" width="1" height="20" fill="#000"/><rect x="1035" y="450" width="5" height="14" fill="#000"/><rect x="1036" y="451" width="3" height="12" fill="#1e6926"/><rect x="1045" y="439" width="1" height="14" fill="#000"/><rect x="1043" y="440" width="5" height="9" fill="#000"/><rect x="1044" y="441" width="3" height="7" fill="#1e6926"/><rect x="1052" y="433" width="1" height="19" fill="#000"/><rect x="1050" y="440" width="5" height="5" fill="#000"/><rect x="1051" y="441" width="3" height="3" fill="#f44336"/><rect x="1059" y="415" width="1" height="39" fill="#000"/><rect x="1057" y="421" width="5" height="24" fill="#000"/><rect x="1058" y="422" width="3" height="22" fill="#1e6926"/><rect x="1066" y="419" width="1" height="26" fill="#000"/><rect x="1064" y="421" width="5" height="15" fill="#000"/><rect x="1065" y="422" width="3" height="13" fill="#f44336"/><rect x="1074" y="430" width="1" height="21" fill="#000"/><rect x="1072" y="436" width="5" height="11" fill="#000"/><rect x="1073" y="437" width="3" height="9" fill="#f44336"/><rect x="1081" y="437" width="1" height="15" fill="#000"/><rect x="1079" y="443" width="5" height="4" fill="#000"/><rect x="1080" y="444" width="3" height="2" fill="#1e6926"/><rect x="1088" y="438" width="1" height="17" fill="#000"/><rect x="1086" y="443" width="5" height="1" fill="#000"/><rect x="1096" y="437" width="1" height="10" fill="#000"/><rect x="1094" y="441" width="5" height="3" fill="#000"/><rect x="1095" y="442" width="3" height="1" fill="#1e6926"/><rect x="1103" y="430" width="1" height="16" fill="#000"/><rect x="1101" y="430" width="5" height="12" fill="#000"/><rect x="1102" y="431" width="3" height="10" fill="#1e6926"/><rect x="1110" y="414" width="1" height="21" fill="#000"/><rect x="1108" y="430" width="5" height="5" fill="#000"/><rect x="1109" y="431" width="3" height="3" fill="#f44336"/><rect x="1117" y="432" width="1" height="53" fill="#000"/><rect x="1115" y="434" width="5" height="29" fill="#000"/><rect x="1116" y="435" width="3" height="27" fill="#f44336"/><rect x="1125" y="448" width="1" height="15" fill="#000"/><rect x="1123" y="452" width="5" height="11" fill="#000"/><rect x="1124" y="453" width="3" height="9" fill="#1e6926"/><rect x="1132" y="444" width="1" height="16" fill="#000"/><rect x="1130" y="449" width="5" height="3" fill="#000"/><rect x="1131" y="450" width="3" height="1" fill="#1e6926"/><rect x="1139" y="448" width="1" height="20" fill="#000"/><rect x="1137" y="449" width="5" height="3" fill="#000"/><rect x="1138" y="450" width="3" height="1" fill="#f44336"/><rect x="1146" y="443" width="1" height="13" fill="#000"/><rect x="1144" y="444" width="5" height="8" fill="#000"/><rect x="1145" y="445" width="3" height="6" fill="#1e6926"/><rect x="1154" y="419" width="1" height="34" fill="#000"/><rect x="1152" y="427" width="5" height="18" fill="#000"/><rect x="1153" y="428" width="3" height="16" fill="#1e6926"/><rect x="1161" y="419" width="1" height="23" fill="#000"/><rect x="1159" y="427" width="5" height="1" fill="#000"/><rect x="1168" y="421" width="1" height="8" fill="#000"/><rect x="1166" y="423" width="5" height="5" fill="#000"/><rect x="1167" y="424" width="3" height="3" fill="#1e6926"/><rect x="1176" y="392" width="1" height="34" fill="#000"/><rect x="1174" y="394" width="5" height="29" fill="#000"/><rect x="1175" y="395" width="3" height="27" fill="#1e6926"/><rect x="1183" y="369" width="1" height="26" fill="#000"/><rect x="1181" y="381" width="5" height="14" fill="#000"/><rect x="1182" y="382" width="3" height="12" fill="#1e6926"/><rect x="1190" y="365" width="1" height="25" fill="#000"/><rect x="1188" y="372" width="5" height="9" fill="#000"/><rect x="1189" y="373" width="3" height="7" fill="#1e6926"/><rect x="1197" y="367" width="1" height="19" fill="#000"/><rect x="1195" y="370" width="5" height="3" fill="#000"/><rect x="1196" y="371" width="3" height="1" fill="#1e6926"/><rect x="1205" y="346" width="1" height="28" fill="#000"/><rect x="1203" y="357" width="5" height="13" fill="#000"/><rect x="1204" y="358" width="3" height="11" fill="#1e6926"/><rect x="1212" y="351" width="1" height="8" fill="#000"/><rect x="1210" y="356" width="5" height="2" fill="#000"/><rect x="1219" y="339" width="1" height="20" fill="#000"/><rect x="1217" y="356" width="5" height="2" fill="#000"/><rect x="1227" y="340" width="1" height="17" fill="#000"/><rect x="1225" y="351" width="5" height="6" fill="#000"/><rect x="1226" y="352" width="3" height="4" fill="#1e6926"/><rect x="1234" y="350" width="1" height="23" fill="#000"/><rect x="1232" y="351" width="5" height="9" fill="#000"/><rect x="1233" y="352" width="3" height="7" fill="#f44336"/><rect x="1241" y="332" width="1" height="28" fill="#000"/><rect x="1239" y="338" width="5" height="22" fill="#000"/><rect x="1240" y="339" width="3" height="20" fill="#1e6926"/><rect x="1248" y="327" width="1" height="27" fill="#000"/><rect x="1246" y="336" width="5" height="3" fill="#000"/><rect x="1247" y="337" width="3" height="1" fill="#1e6926"/><rect x="1256" y="331" width="1" height="12" fill="#000"/><rect x="1254" y="333" width="5" height="3" fill="#000"/><rect x="1255" y="334" width="3" height="1" fill="#1e6926"/><rect x="1263" y="318" width="1" height="15" fill="#000"/><rect x="1261" y="318" width="5" height="15" fill="#000"/><rect x="1262" y="319" width="3" height="13" fill="#1e6926"/><rect x="1270" y="284" width="1" height="39" fill="#000"/><rect x="1268" y="292" width="5" height="26" fill="#000"/><rect x="1269" y="293" width="3" height="24" fill="#1e6926"/><rect x="1278" y="273" width="1" height="26" fill="#000"/><rect x="1276" y="273" width="5" height="19" fill="#000"/><rect x="1277" y="274" width="3" height="17" fill="#1e6926"/><rect x="1285" y="273" width="1" height="21" fill="#000"/><rect x="1283" y="273" width="5" height="11" fill="#000"/><rect x="1284" y="274" width="3" height="9" fill="#f44336"/><rect x="1292" y="264" width="1" height="22" fill="#000"/><rect x="1290" y="271" width="5" height="13" fill="#000"/><rect x="1291" y="272" width="3" height="11" fill="#1e6926"/><rect x="1299" y="268" width="1" height="21" fill="#000"/><rect x="1297" y="271" width="5" height="10" fill="#000"/><rect x="1298" y="272" width="3" height="8" fill="#f44336"/><rect x="1307" y="276" width="1" height="42" fill="#000"/><rect x="1305" y="281" width="5" height="19" fill="#000"/><rect x="1306" y="282" width="3" height="17" fill="#f44336"/><rect x="1314" y="278" width="1" height="38" fill="#000"/><rect x="1312" y="282" width="5" height="18" fill="#000"/><rect x="1313" y="283" width="3" height="16" fill="#1e6926"/><rect x="1321" y="280" width="1" height="18" fill="#000"/><rect x="1319" y="283" width="5" height="3" fill="#000"/><rect x="1320" y="284" width="3" height="1" fill="#f44336"/><rect x="1328" y="264" width="1" height="39" fill="#000"/><rect x="1326" y="284" width="5" height="19" fill="#000"/><rect x="1327" y="285" width="3" height="17" fill="#f44336"/><rect x="1336" y="291" width="1" height="79" fill="#000"/><rect x="1334" y="303" width="5" height="61" fill="#000"/><rect x="1335" y="304" width="3" height="59" fill="#f44336"/><rect x="1343" y="335" width="1" height="31" fill="#000"/><rect x="1341" y="340" width="5" height="25" fill="#000"/><rect x="1342" y="341" width="3" height="23" fill="#1e6926"/><rect x="1350" y="324" width="1" height="33" fill="#000"/><rect x="1348" y="342" width="5" height="2" fill="#000"/><rect x="1358" y="331" width="1" height="36" fill="#000"/><rect x="1356" y="342" width="5" height="2" fill="#000"/><rect x="1365" y="312" width="1" height="51" fill="#000"/><rect x="1363" y="322" width="5" height="21" fill="#000"/><rect x="1364" y="323" width="3" height="19" fill="#1e6926"/><rect x="1372" y="318" width="1" height="23" fill="#000"/><rect x="1370" y="322" width="5" height="15" fill="#000"/><rect x="1371" y="323" width="3" height="13" fill="#f44336"/><rect x="1379" y="297" width="1" height="49" fill="#000"/><rect x="1377" y="328" width="5" height="8" fill="#000"/><rect x="1378" y="329" width="3" height="6" fill="#1e6926"/><rect x="1387" y="299" width="1" height="34" fill="#000"/><rect x="1385" y="302" width="5" height="27" fill="#000"/><rect x="1386" y="303" width="3" height="25" fill="#1e6926"/><rect x="1394" y="263" width="1" height="60" fill="#000"/><rect x="1392" y="269" width="5" height="49" fill="#000"/><rect x="1393" y="270" width="3" height="47" fill="#1e6926"/><rect x="1401" y="246" width="1" height="34" fill="#000"/><rect x="1399" y="260" width="5" height="10" fill="#000"/><rect x="1400" y="261" width="3" height="8" fill="#1e6926"/><rect x="1409" y="245" width="1" height="19" fill="#000"/><rect x="1407" y="247" width="5" height="13" fill="#000"/><rect x="1408" y="248" width="3" height="11" fill="#1e6926"/><rect x="1416" y="230" width="1" height="23" fill="#000"/><rect x="1414" y="232" width="5" height="15" fill="#000"/><rect x="1415" y="233" width="3" height="13" fill="#1e6926"/><rect x="1423" y="210" width="1" height="25" fill="#000"/><rect x="1421" y="223" width="5" height="10" fill="#000"/><rect x="1422" y="224" width="3" height="8" fill="#1e6926"/><rect x="1430" y="214" width="1" height="21" fill="#000"/><rect x="1428" y="217" width="5" height="7" fill="#000"/><rect x="1429" y="218" width="3" height="5" fill="#1e6926"/><rect x="1438" y="180" width="1" height="40" fill="#000"/><rect x="1436" y="192" width="5" height="25" fill="#000"/><rect x="1437" y="193" width="3" height="23" fill="#1e6926"/><rect x="1445" y="152" width="1" height="65" fill="#000"/><rect x="1443" y="192" width="5" height="15" fill="#000"/><rect x="1444" y="193" width="3" height="13" fill="#f44336"/><rect x="1452" y="184" width="1" height="52" fill="#000"/><rect x="1450" y="201" width="5" height="7" fill="#000"/><rect x="1451" y="202" width="3" height="5" fill="#1e6926"/><rect x="1459" y="185" width="1" height="43" fill="#000"/><rect x="1457" y="201" width="5" height="4" fill="#000"/><rect x="1458" y="202" width="3" height="2" fill="#f44336"/><rect x="1467" y="175" width="1" height="32" fill="#000"/><rect x="1465" y="182" width="5" height="23" fill="#000"/><rect x="1466" y="183" width="3" height="21" fill="#1e6926"/><rect x="1474" y="178" width="1" height="17" fill="#000"/><rect x="1472" y="182" width="5" height="6" fill="#000"/><rect x="1473" y="183" width="3" height="4" fill="#f44336"/><rect x="1481" y="146" width="1" height="43" fill="#000"/><rect x="1479" y="151" width="5" height="37" fill="#000"/><rect x="1480" y="152" width="3" height="35" fill="#1e6926"/><rect x="1489" y="142" width="1" height="23" fill="#000"/><rect x="1487" y="144" width="5" height="7" fill="#000"/><rect x="1488" y="145" width="3" height="5" fill="#1e6926"/></g>
<g stroke="#1b5e20" stroke-width="2.4" fill="none" stroke-linecap="round" stroke-linejoin="round"><line x1="1546.6" y1="206.0" x2="1692.5" y2="134.0"/><polyline points="1678.3,129.3 1692.5,134.0 1687.8,147.0"/></g>
</g>
<g clip-path="url(#axis)">
<text x="1744.10" y="45.40" font-size="15" fill="#131722" textLength="70.00" lengthAdjust="spacingAndGlyphs" stroke="#131722" stroke-width="0.3">4.300,000</text>
<text x="1744.10" y="91.58" font-size="15" fill="#131722" textLength="70.00" lengthAdjust="spacingAndGlyphs" stroke="#131722" stroke-width="0.3">4.250,000</text>
<text x="1744.10" y="137.76" font-size="15" fill="#131722" textLength="70.00" lengthAdjust="spacingAndGlyphs" stroke="#131722" stroke-width="0.3">4.200,000</text>
<text x="1744.10" y="183.94" font-size="15" fill="#131722" textLength="70.00" lengthAdjust="spacingAndGlyphs" stroke="#131722" stroke-width="0.3">4.150,000</text>
<text x="1744.10" y="230.12" font-size="15" fill="#131722" textLength="70.00" lengthAdjust="spacingAndGlyphs" stroke="#131722" stroke-width="0.3">4.100,000</text>
<text x="1744.10" y="276.30" font-size="15" fill="#131722" textLength="70.00" lengthAdjust="spacingAndGlyphs" stroke="#131722" stroke-width="0.3">4.050,000</text>
<text x="1744.10" y="322.48" font-size="15" fill="#131722" textLength="70.00" lengthAdjust="spacingAndGlyphs" stroke="#131722" stroke-width="0.3">4.000,000</text>
<text x="1744.10" y="368.66" font-size="15" fill="#131722" textLength="70.00" lengthAdjust="spacingAndGlyphs" stroke="#131722" stroke-width="0.3">3.950,000</text>
<text x="1744.10" y="414.84" font-size="15" fill="#131722" textLength="70.00" lengthAdjust="spacingAndGlyphs" stroke="#131722" stroke-width="0.3">3.900,000</text>
<text x="1744.10" y="461.02" font-size="15" fill="#131722" textLength="70.00" lengthAdjust="spacingAndGlyphs" stroke="#131722" stroke-width="0.3">3.850,000</text>
<text x="1744.10" y="507.20" font-size="15" fill="#131722" textLength="70.00" lengthAdjust="spacingAndGlyphs" stroke="#131722" stroke-width="0.3">3.800,000</text>
<text x="1744.10" y="553.38" font-size="15" fill="#131722" textLength="70.00" lengthAdjust="spacingAndGlyphs" stroke="#131722" stroke-width="0.3">3.750,000</text>
<text x="1744.10" y="599.56" font-size="15" fill="#131722" textLength="70.00" lengthAdjust="spacingAndGlyphs" stroke="#131722" stroke-width="0.3">3.700,000</text>
<text x="1744.10" y="645.74" font-size="15" fill="#131722" textLength="70.00" lengthAdjust="spacingAndGlyphs" stroke="#131722" stroke-width="0.3">3.650,000</text>
<text x="1744.10" y="691.92" font-size="15" fill="#131722" textLength="70.00" lengthAdjust="spacingAndGlyphs" stroke="#131722" stroke-width="0.3">3.600,000</text>
<text x="1744.10" y="738.10" font-size="15" fill="#131722" textLength="70.00" lengthAdjust="spacingAndGlyphs" stroke="#131722" stroke-width="0.3">3.550,000</text>
<text x="1744.10" y="784.28" font-size="15" fill="#131722" textLength="70.00" lengthAdjust="spacingAndGlyphs" stroke="#131722" stroke-width="0.3">3.500,000</text>
<path d="M1734,111.00 H1818.8 a2,2 0 0 1 2,2 V131.00 a2,2 0 0 1 -2,2 H1734 Z" fill="#5b9cf6"/>
<text x="1744.10" y="126.70" font-size="15" fill="#131722" textLength="70.00" lengthAdjust="spacingAndGlyphs" stroke="#131722" stroke-width="0.3">4.190,840</text>
<path d="M1734,133.00 H1818.8 a2,2 0 0 1 2,2 V154.00 a2,2 0 0 1 -2,2 H1734 Z" fill="#1b5e20"/>
<text x="1744.10" y="149.20" font-size="15" fill="#ffffff" textLength="70.00" lengthAdjust="spacingAndGlyphs" stroke="#ffffff" stroke-width="0.3">4.188,485</text>
<path d="M1734,253.30 H1818.8 a2,2 0 0 1 2,2 V273.70 a2,2 0 0 1 -2,2 H1734 Z" fill="#5b9cf6"/>
<text x="1744.10" y="269.20" font-size="15" fill="#131722" textLength="70.00" lengthAdjust="spacingAndGlyphs" stroke="#131722" stroke-width="0.3">4.059,310</text>
<path d="M1734,362.30 H1818.8 a2,2 0 0 1 2,2 V382.70 a2,2 0 0 1 -2,2 H1734 Z" fill="#5b9cf6"/>
<text x="1744.10" y="378.20" font-size="15" fill="#131722" textLength="70.00" lengthAdjust="spacingAndGlyphs" stroke="#131722" stroke-width="0.3">3.940,685</text>
<path d="M1734,499.30 H1818.8 a2,2 0 0 1 2,2 V519.70 a2,2 0 0 1 -2,2 H1734 Z" fill="#5b9cf6"/>
<text x="1744.10" y="515.20" font-size="15" fill="#131722" textLength="70.00" lengthAdjust="spacingAndGlyphs" stroke="#131722" stroke-width="0.3">3.792,875</text>
<path d="M1734,568.30 H1818.8 a2,2 0 0 1 2,2 V588.70 a2,2 0 0 1 -2,2 H1734 Z" fill="#5b9cf6"/>
<text x="1744.10" y="584.20" font-size="15" fill="#131722" textLength="70.00" lengthAdjust="spacingAndGlyphs" stroke="#131722" stroke-width="0.3">3.717,348</text>
<path d="M1734,651.30 H1818.8 a2,2 0 0 1 2,2 V671.70 a2,2 0 0 1 -2,2 H1734 Z" fill="#5b9cf6"/>
<text x="1744.10" y="667.20" font-size="15" fill="#131722" textLength="70.00" lengthAdjust="spacingAndGlyphs" stroke="#131722" stroke-width="0.3">3.627,465</text>
<path d="M1734,760.30 H1818.8 a2,2 0 0 1 2,2 V780.70 a2,2 0 0 1 -2,2 H1734 Z" fill="#5b9cf6"/>
<text x="1744.10" y="776.20" font-size="15" fill="#131722" textLength="70.00" lengthAdjust="spacingAndGlyphs" stroke="#131722" stroke-width="0.3">3.510,425</text>
<path d="M1734,415.30 H1818.8 a2,2 0 0 1 2,2 V435.70 a2,2 0 0 1 -2,2 H1734 Z" fill="#7e57c2"/>
<text x="1744.10" y="431.20" font-size="15" fill="#ffffff" textLength="70.00" lengthAdjust="spacingAndGlyphs" stroke="#ffffff" stroke-width="0.3">3.883,248</text>
</g>
<rect x="1736.5" y="30.5" width="85" height="27" rx="4" ry="4" fill="#ffffff" stroke="#eef1f4" stroke-width="1"/>
<text x="1746.30" y="49.00" font-size="12.5" fill="#131722" textLength="20.40" lengthAdjust="spacingAndGlyphs" stroke="#131722" stroke-width="0.3">USD</text>
<text x="84.20" y="809.60" font-size="15" fill="#131722" font-weight="bold" text-anchor="middle">Sep</text>
<text x="171.54" y="809.60" font-size="15" fill="#131722" text-anchor="middle" stroke="#131722" stroke-width="0.3">3</text>
<text x="258.87" y="809.60" font-size="15" fill="#131722" text-anchor="middle" stroke="#131722" stroke-width="0.3">5</text>
<text x="346.21" y="809.60" font-size="15" fill="#131722" text-anchor="middle" stroke="#131722" stroke-width="0.3">9</text>
<text x="433.54" y="809.60" font-size="15" fill="#131722" text-anchor="middle" stroke="#131722" stroke-width="0.3">11</text>
<text x="520.88" y="809.60" font-size="15" fill="#131722" text-anchor="middle" stroke="#131722" stroke-width="0.3">15</text>
<text x="608.22" y="809.60" font-size="15" fill="#131722" text-anchor="middle" stroke="#131722" stroke-width="0.3">17</text>
<text x="695.55" y="809.60" font-size="15" fill="#131722" text-anchor="middle" stroke="#131722" stroke-width="0.3">19</text>
<text x="782.89" y="809.60" font-size="15" fill="#131722" text-anchor="middle" stroke="#131722" stroke-width="0.3">23</text>
<text x="870.22" y="809.60" font-size="15" fill="#131722" text-anchor="middle" stroke="#131722" stroke-width="0.3">25</text>
<text x="957.56" y="809.60" font-size="15" fill="#131722" text-anchor="middle" stroke="#131722" stroke-width="0.3">29</text>
<text x="1044.90" y="809.60" font-size="15" fill="#131722" font-weight="bold" text-anchor="middle">Okt</text>
<text x="1132.23" y="809.60" font-size="15" fill="#131722" text-anchor="middle" stroke="#131722" stroke-width="0.3">3</text>
<text x="1219.57" y="809.60" font-size="15" fill="#131722" text-anchor="middle" stroke="#131722" stroke-width="0.3">7</text>
<text x="1306.90" y="809.60" font-size="15" fill="#131722" text-anchor="middle" stroke="#131722" stroke-width="0.3">9</text>
<text x="1394.24" y="809.60" font-size="15" fill="#131722" text-anchor="middle" stroke="#131722" stroke-width="0.3">13</text>
<text x="1481.58" y="809.60" font-size="15" fill="#131722" text-anchor="middle" stroke="#131722" stroke-width="0.3">15</text>
<text x="1568.91" y="809.60" font-size="15" fill="#131722" text-anchor="middle" stroke="#131722" stroke-width="0.3">17</text>
<text x="1656.25" y="809.60" font-size="15" fill="#131722" text-anchor="middle" stroke="#131722" stroke-width="0.3">21</text>
<text x="10.30" y="18.80" font-size="11.5" fill="#d9d9d9" font-weight="bold" textLength="380.40" lengthAdjust="spacingAndGlyphs">KarstenKagels erstellt mit TradingView.com, Okt 15, 2025 07:13 UTC+2</text>
<text x="18.40" y="46.00" font-size="11.5" fill="#131722" textLength="175.60" lengthAdjust="spacingAndGlyphs" stroke="#131722" stroke-width="0.3">Gold Spot / U.S. Dollar · 4h · ICE</text>
<text x="201.70" y="46.00" font-size="11.5" fill="#131722" textLength="60.60" lengthAdjust="spacingAndGlyphs" stroke="#131722" stroke-width="0.3">O4.181,530</text>
<text x="270.00" y="46.00" font-size="11.5" fill="#131722" textLength="60.30" lengthAdjust="spacingAndGlyphs" stroke="#131722" stroke-width="0.3">H4.190,840</text>
<text x="338.00" y="46.00" font-size="11.5" fill="#131722" textLength="58.30" lengthAdjust="spacingAndGlyphs" stroke="#131722" stroke-width="0.3">L4.166,698</text>
<text x="403.70" y="46.00" font-size="11.5" fill="#131722" textLength="60.00" lengthAdjust="spacingAndGlyphs" stroke="#131722" stroke-width="0.3">C4.188,485</text>
<text x="18.40" y="62.90" font-size="11.5" fill="#131722" textLength="21.00" lengthAdjust="spacingAndGlyphs" stroke="#131722" stroke-width="0.3">SMA</text>
<text x="46.60" y="62.90" font-size="11.5" fill="#2962ff" textLength="52.80" lengthAdjust="spacingAndGlyphs" stroke="#2962ff" stroke-width="0.3">4.080,073</text>
<text x="752.00" y="77.00" font-size="28.5" fill="#131722" textLength="572.60" lengthAdjust="spacingAndGlyphs" stroke="#131722" stroke-width="0.3">Goldpreis (Spot) XAU/USD Vier-Stunden-Chart</text>
<text x="1535.30" y="737.00" font-size="16.4" fill="#3c3f48" textLength="140.60" lengthAdjust="spacingAndGlyphs" stroke="#3c3f48" stroke-width="0.1">© kagels-trading.de</text>
<text x="1662.90" y="437.60" font-size="10" fill="#7e57c2" textLength="63.80" lengthAdjust="spacingAndGlyphs" stroke="#7e57c2" stroke-width="0.3">Vorwochentief</text>
<g fill="#dedede"><path d="M11.9,844.8 H24.1 V859.7 H17.8 V851.2 H11.9 Z"/><circle cx="29.0" cy="847.7" r="2.9"/><path d="M34.4,844.8 H41.8 L36.4,859.7 H29.0 Z"/></g>
<text x="49.20" y="859.70" font-size="20.8" fill="#dedede" font-weight="bold" textLength="120.70" lengthAdjust="spacingAndGlyphs">TradingView</text>
</svg>
</body></html>
